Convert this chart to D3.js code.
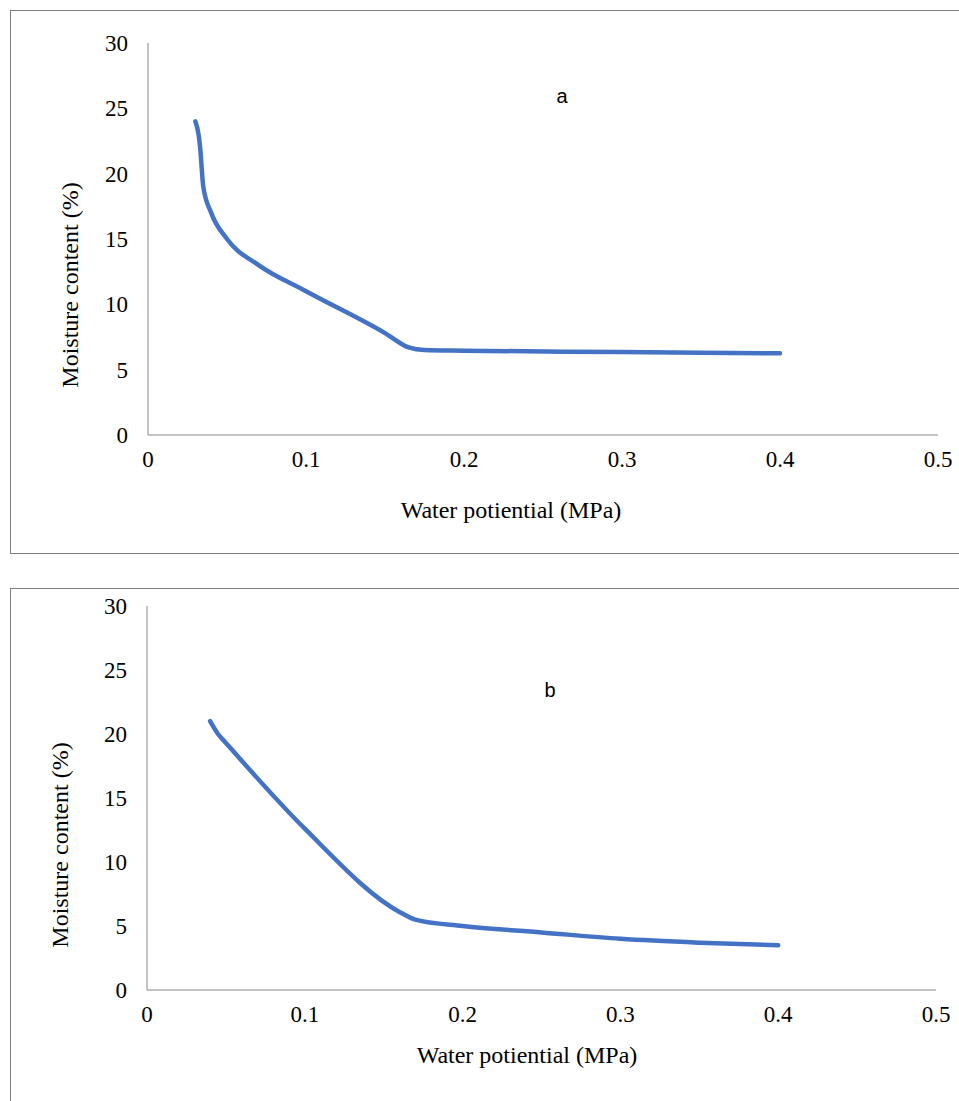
<!DOCTYPE html>
<html><head><meta charset="utf-8">
<script src="https://cdn.jsdelivr.net/npm/d3@7"></script>
<style>body{margin:0;background:#fff}</style>
</head><body>
<svg width="959" height="1101"></svg>
<script>
var xTicks = [0, 0.1, 0.2, 0.3, 0.4, 0.5];
var yTicks = [0, 5, 10, 15, 20, 25, 30];
var potentialA = [0.03, 0.032, 0.033, 0.035, 0.04, 0.05, 0.07, 0.1, 0.15, 0.165, 0.175, 0.2, 0.3, 0.4];
var moistureA  = [24, 23, 22, 19, 17, 15, 13, 11, 7.8, 6.7, 6.5, 6.45, 6.35, 6.25];
var potentialB = [0.04, 0.045, 0.05, 0.1, 0.16, 0.17, 0.2, 0.25, 0.3, 0.35, 0.4];
var moistureB  = [21, 20, 19.3, 12.6, 6.1, 5.5, 5, 4.5, 4, 3.7, 3.5];

var svg = d3.select("svg");

function panel(p) {
	svg.append("rect").attr("x", p.fx).attr("y", p.fy).attr("width", p.fw).attr("height", p.fh)
		.attr("fill", "none").attr("stroke", "#7f7f7f").attr("stroke-width", 1);
	var x = d3.scaleLinear().domain([0, 0.5]).range([p.x0, p.x1]);
	var y = d3.scaleLinear().domain([0, 30]).range([p.y0, p.y1]);
	var g = svg.append("g").style("font-family", "Liberation Serif").style("font-size", "23px");
	g.append("line").attr("x1", p.x0).attr("x2", p.x1).attr("y1", p.y0).attr("y2", p.y0).attr("stroke", "#888");
	g.append("line").attr("x1", p.x0).attr("x2", p.x0).attr("y1", p.y0).attr("y2", p.y1).attr("stroke", "#888");
	g.selectAll(".xt").data(xTicks).enter().append("text")
		.attr("x", function(d){ return x(d); }).attr("y", p.y0 + 32)
		.attr("text-anchor", "middle").text(function(d){ return d; });
	g.selectAll(".yt").data(yTicks).enter().append("text")
		.attr("x", p.x0 - 20).attr("y", function(d){ return y(d) + 8; })
		.attr("text-anchor", "end").text(function(d){ return d; });
	g.append("text").attr("x", p.xc).attr("y", p.xl)
		.attr("text-anchor", "middle").style("font-size", "24px").text("Water potiential (MPa)");
	g.append("text").attr("transform", "translate(" + p.yl + "," + p.yc + ") rotate(-90)")
		.attr("text-anchor", "middle").style("font-size", "24px").text("Moisture content (%)");
	svg.append("text").attr("x", p.lx).attr("y", p.ly).style("font-family", "Liberation Sans")
		.style("font-size", "20px").attr("text-anchor", "middle").text(p.label);
	var pts = p.xs.map(function(d, i){ return [d, p.ys[i]]; });
	svg.append("path").datum(pts)
		.attr("d", d3.line().x(function(d){ return x(d[0]); }).y(function(d){ return y(d[1]); }).curve(d3.curveMonotoneX))
		.attr("fill", "none").attr("stroke", "#4472C4").attr("stroke-width", 4.5).attr("stroke-linecap", "round");
}

panel({fx: 10.5, fy: 10.5, fw: 960, fh: 543, x0: 148, x1: 938, y0: 435, y1: 43, xc: 511, xl: 518, yl: 78, yc: 285, lx: 562, ly: 103, label: "a", xs: potentialA, ys: moistureA});
panel({fx: 10.5, fy: 588.5, fw: 960, fh: 520, x0: 147, x1: 936, y0: 990, y1: 606, xc: 527, xl: 1063, yl: 68, yc: 845, lx: 550, ly: 697, label: "b", xs: potentialB, ys: moistureB});
</script>
</body></html>
